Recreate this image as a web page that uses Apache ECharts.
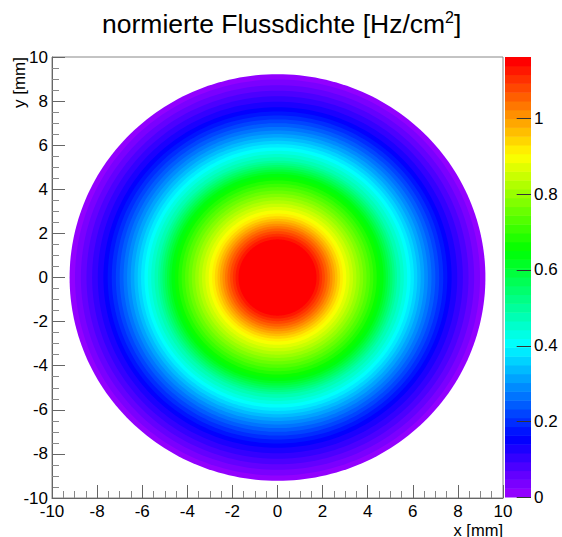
<!DOCTYPE html>
<html>
<head>
<meta charset="utf-8">
<script src="https://cdn.jsdelivr.net/npm/echarts@6/dist/echarts.min.js"></script>
<style>
  html, body { margin: 0; padding: 0; background: #fff; }
  #chart { width: 562px; height: 537px; }
</style>
</head>
<body>
<div id="chart"></div>
<script>
// Normalised flux density on a round detector face, drawn as 50 contour bands.
const zMax = 1.162;          // top of the colour scale [Hz/cm^2]
const nLevels = 50;          // number of contour levels
// Outer radius (mm) of the region whose value is above level k (k = 0 .. 49),
// i.e. band k spans from bandRadius[k+1] out to bandRadius[k].
const bandRadius = [
  9.22, 8.98, 8.72, 8.47, 8.22, 7.97, 7.72, 7.53, 7.35, 7.17,
  7.00, 6.83, 6.67, 6.51, 6.35, 6.20, 6.05, 5.90, 5.75, 5.60,
  5.45, 5.30, 5.20, 5.10, 5.00, 4.90, 4.80, 4.70, 4.55, 4.40,
  4.25, 4.10, 3.95, 3.80, 3.65, 3.50, 3.35, 3.20, 3.05, 2.90,
  2.78, 2.66, 2.55, 2.44, 2.33, 2.22, 2.10, 1.98, 1.86, 1.73
];
const colorbarTicks = [0, 0.2, 0.4, 0.6, 0.8, 1.0];

const FONT = 'Liberation Sans, Arial, Helvetica, sans-serif';
const LINE = '#666';

// "Pretty" palette: 50 fully saturated hues from violet down to red.
function bandColor(k) {
  const hue = 280 - (k + 1) * (280 / nLevels);
  return 'hsl(' + hue.toFixed(2) + ',100%,50%)';
}

const chart = echarts.init(document.getElementById('chart'), null, { renderer: 'svg' });

const option = {
  animation: false,
  backgroundColor: '#fff',
  title: {
    left: 97,
    top: 4,
    text: '{a|normierte Flussdichte [Hz/cm}{s|2}{a|]}',
    textStyle: {
      fontWeight: 'normal',
      rich: {
        a: { fontFamily: FONT, fontSize: 26.5, fontWeight: 'normal', color: '#000', lineHeight: 30 },
        s: { fontFamily: FONT, fontSize: 16, fontWeight: 'normal', color: '#000', verticalAlign: 'top', lineHeight: 30, padding: [0, 0, 14, 0] }
      }
    }
  },
  grid: [
    { left: 52, top: 57, width: 451, height: 441, show: true, borderColor: '#888', borderWidth: 1, outerBoundsMode: 'none' },
    { left: 505, top: 57, width: 26, height: 440, show: false, outerBoundsMode: 'none' }
  ],
  xAxis: [
    {
      gridIndex: 0, type: 'value', min: -10, max: 10, interval: 2,
      axisLine: { show: true, onZero: false, lineStyle: { color: LINE } },
      axisTick: { show: true, inside: true, length: 13, lineStyle: { color: LINE } },
      minorTick: { show: true, splitNumber: 4, length: 7, lineStyle: { color: '#888' } },
      splitLine: { show: false },
      axisLabel: { color: '#000', fontFamily: FONT, fontSize: 17, lineHeight: 14, margin: 6 }
    },
    { gridIndex: 1, type: 'value', min: 0, max: 1, show: false }
  ],
  yAxis: [
    {
      gridIndex: 0, type: 'value', min: -10, max: 10, interval: 2,
      axisLine: { show: true, onZero: false, lineStyle: { color: LINE } },
      axisTick: { show: true, inside: true, length: 13, lineStyle: { color: LINE } },
      minorTick: { show: true, splitNumber: 4, length: 7, lineStyle: { color: '#888' } },
      splitLine: { show: false },
      axisLabel: { color: '#000', fontFamily: FONT, fontSize: 17, lineHeight: 14, margin: 4 }
    },
    {
      gridIndex: 1, type: 'value', min: 0, max: zMax, position: 'right',
      axisLine: { show: false },
      axisTick: { show: false },
      splitLine: { show: false },
      axisLabel: { color: '#000', fontFamily: FONT, fontSize: 17, margin: 3, customValues: colorbarTicks }
    }
  ],
  graphic: [
    {
      type: 'text', x: 19, y: 57, rotation: Math.PI / 2,
      style: { text: 'y [mm]', fill: '#000', font: '17px ' + FONT, textAlign: 'right', textVerticalAlign: 'middle' }
    },
    {
      type: 'text', x: 503, y: 529.5,
      style: { text: 'x [mm]', fill: '#000', font: '16.5px ' + FONT, lineHeight: 14, textAlign: 'right', textVerticalAlign: 'middle' }
    }
  ],
  series: [
    {
      // filled contour bands: largest disc first, each smaller one on top
      type: 'custom', xAxisIndex: 0, yAxisIndex: 0,
      data: bandRadius.map((r, k) => [k, r]),
      encode: { x: 0, y: 1 },
      renderItem(params, api) {
        const k = api.value(0);
        const r = api.value(1);
        const pts = [];
        for (let i = 0; i < 240; i++) {
          const a = (i / 240) * Math.PI * 2;
          pts.push(api.coord([r * Math.cos(a), r * Math.sin(a)]));
        }
        return { type: 'polygon', shape: { points: pts }, style: { fill: bandColor(k) } };
      }
    },
    {
      // colour scale
      type: 'custom', xAxisIndex: 1, yAxisIndex: 1,
      data: bandRadius.map((r, k) => [k]),
      encode: { y: 0 },
      renderItem(params, api) {
        const k = api.value(0);
        const step = zMax / nLevels;
        const p0 = api.coord([0, k * step]);
        const p1 = api.coord([1, (k + 1) * step]);
        return {
          type: 'rect',
          shape: { x: p0[0], y: p1[1], width: p1[0] - p0[0], height: p0[1] - p1[1] + 0.5 },
          style: { fill: bandColor(k) }
        };
      }
    },
    {
      // tick marks of the colour scale, drawn into the bar from its right edge
      type: 'custom', xAxisIndex: 1, yAxisIndex: 1, z: 5,
      data: colorbarTicks.map(v => [v]),
      encode: { y: 0 },
      renderItem(params, api) {
        const v = api.value(0);
        const a = api.coord([0.45, v]);
        const b = api.coord([1, v]);
        return {
          type: 'line',
          shape: { x1: a[0], y1: Math.round(a[1]) + 0.5, x2: b[0], y2: Math.round(b[1]) + 0.5 },
          style: { stroke: '#333', lineWidth: 1 }
        };
      }
    }
  ]
};

chart.setOption(option);
</script>
</body>
</html>
